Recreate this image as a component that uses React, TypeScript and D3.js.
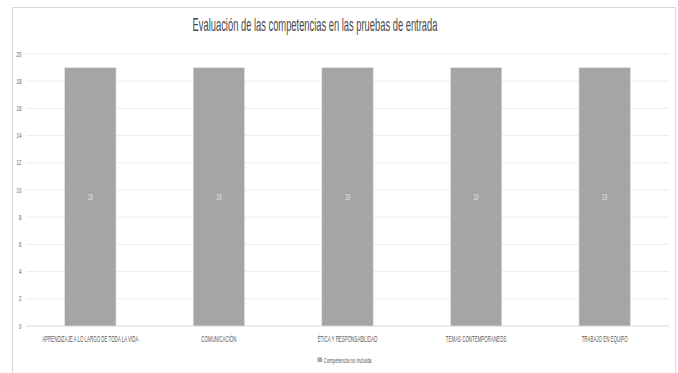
import React from "react";
import * as d3 from "d3";

const categories = [
  "APRENDIZAJE A LO LARGO DE TODA LA VIDA",
  "COMUNICACIÓN",
  "ÉTICA Y RESPONSABILIDAD",
  "TEMAS CONTEMPORANEOS",
  "TRABAJO EN EQUIPO",
];
const values = [19, 19, 19, 19, 19];
const seriesName = "Competencia no incluida";
const yTicks = [0, 2, 4, 6, 8, 10, 12, 14, 16, 18, 20];
const title = "Evaluación de las competencias en las pruebas de entrada";

const W = 678;
const H = 373;
const FONT = "'Liberation Sans', Arial, sans-serif";

export default function App() {
  const x = d3
    .scaleBand<string>()
    .domain(categories)
    .range([26, 669])
    .paddingInner(0.6)
    .paddingOuter(0.3);
  const y = d3.scaleLinear().domain([0, 20]).range([326, 54]);

  const T = (
    tx: number,
    ty: number,
    txt: string,
    size: number,
    fill: string,
    anchor: string = "middle",
    key?: string,
    sx: number = 0.55
  ) => (
    <g key={key} transform={`translate(${tx},${ty}) scale(${sx},1)`}>
      <text
        textAnchor={anchor as any}
        fontFamily={FONT}
        fontSize={size}
        fill={fill}
      >
        {txt}
      </text>
    </g>
  );

  return (
    <svg
      width={W}
      height={H}
      style={{ position: "absolute", left: 0, top: 0, background: "#fff" }}
    >
      <rect x={0} y={0} width={W} height={H} fill="#fff" />
      <rect
        x={12.5}
        y={7.5}
        width={663}
        height={400}
        fill="#fff"
        stroke="#d9d9d9"
        strokeWidth={1}
      />
      {T(315, 31, title, 18, "#4a4a4a", "middle", "title", 0.52)}
      {yTicks.map((t) => (
        <line
          key={"g" + t}
          x1={26}
          x2={669}
          y1={y(t)}
          y2={y(t)}
          stroke={t === 0 ? "#d9d9d9" : "#ececec"}
          strokeWidth={1}
        />
      ))}
      {yTicks.map((t) =>
        T(21.5, y(t) + 2.5, String(t), 8, "#595959", "end", "t" + t, 0.55)
      )}
      {categories.map((c, i) => (
        <rect
          key={"b" + c}
          x={x(c)!}
          y={y(values[i])}
          width={x.bandwidth()}
          height={y(0) - y(values[i])}
          fill="#a5a5a5"
          stroke="#e6e6e6"
          strokeWidth={0.6}
        />
      ))}
      {categories.map((c, i) =>
        T(
          x(c)! + x.bandwidth() / 2,
          (y(values[i]) + y(0)) / 2 + 3,
          String(values[i]),
          8.5,
          "#e4e4e4",
          "middle",
          "v" + c,
          0.55
        )
      )}
      {categories.map((c) =>
        T(x(c)! + x.bandwidth() / 2, 342, c, 8.5, "#595959", "middle", "c" + c, 0.52)
      )}
      <rect x={317.5} y={357.5} width={4.5} height={4.5} fill="#a5a5a5" />
      {T(323.5, 363, seriesName, 8, "#595959", "start", "leg", 0.55)}
    </svg>
  );
}
